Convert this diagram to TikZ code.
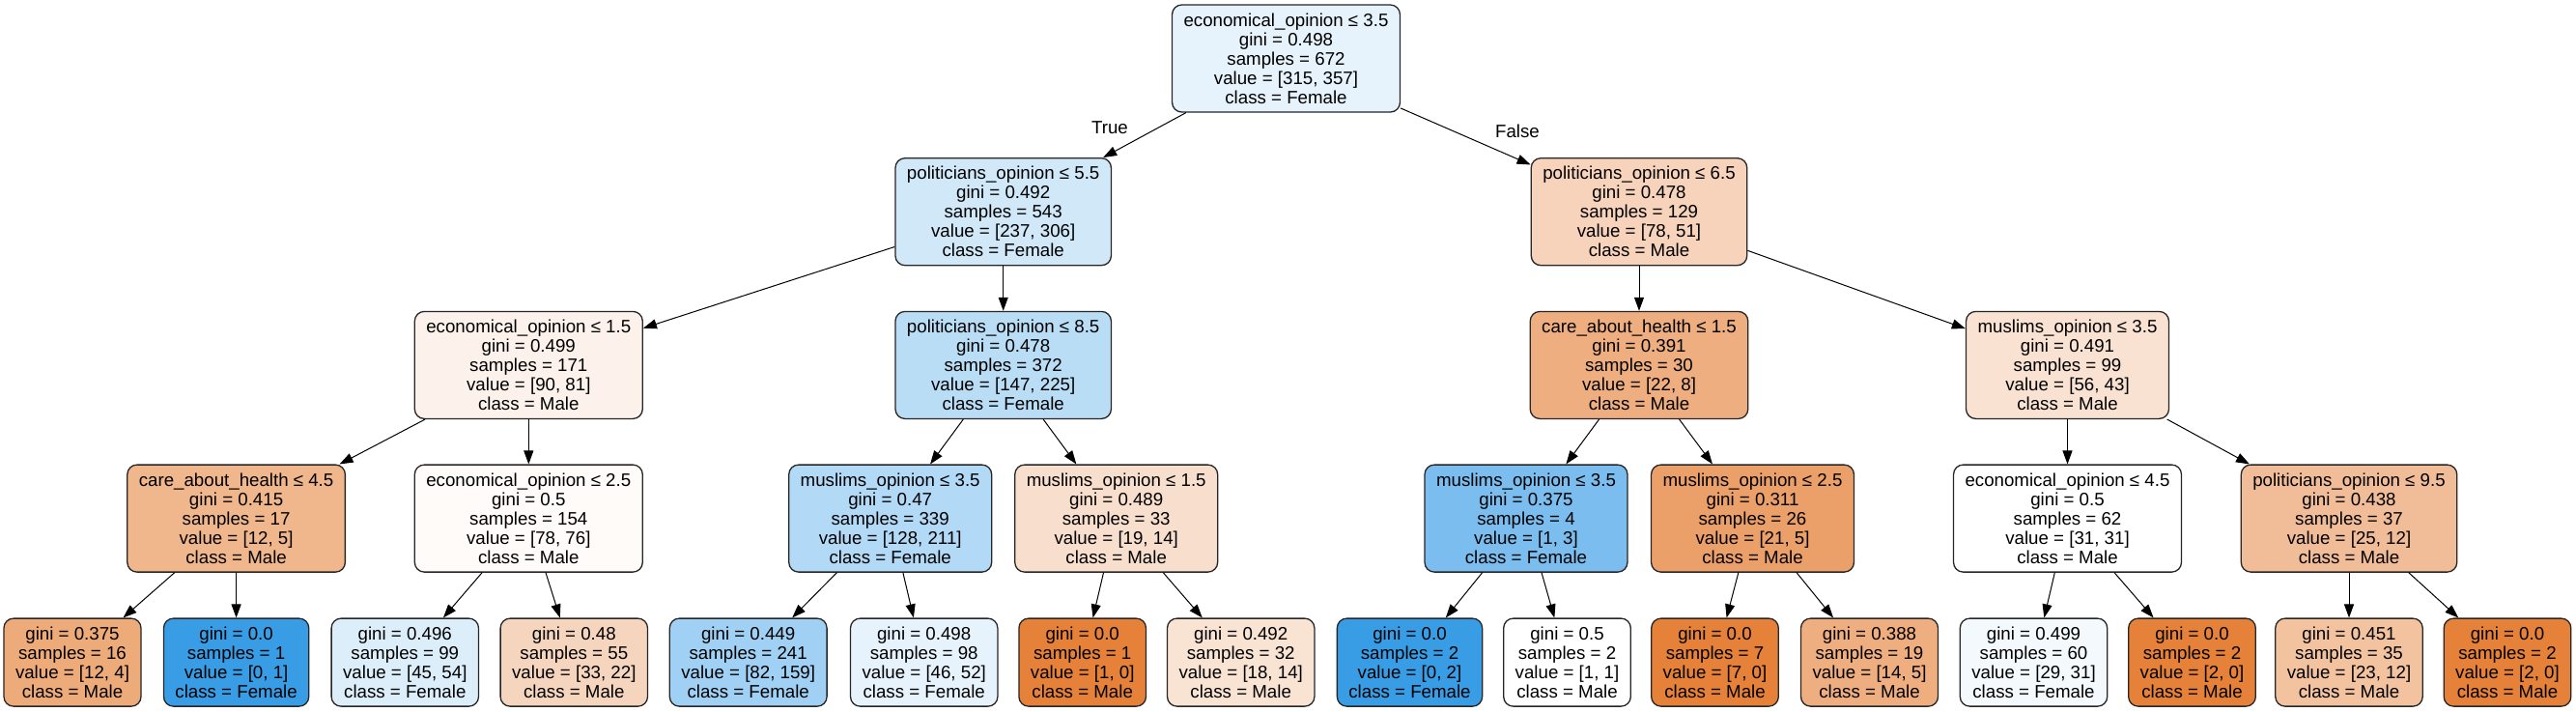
\documentclass[tikz,border=0pt]{standalone}
\usepackage{fontspec}
\setmainfont{Liberation Sans}
\usepackage{xcolor}
\usepackage{tikz}
\usetikzlibrary{arrows.meta, positioning}

\definecolor{male}{HTML}{E58139}
\definecolor{female}{HTML}{399DE5}

\begin{document}
\begin{tikzpicture}[>={Triangle[length=7pt,width=5pt]}, node distance=79.35pt, on grid,
        split/.style={draw=black!85, line width=0.65pt, rounded corners=5pt, align=center,
            font=\fontsize{9.35}{10}\selectfont, minimum height=55.5pt, inner xsep=6pt},
        leaf/.style={split, minimum height=45.5pt},
        lbl/.style={font=\fontsize{9.35}{10}\selectfont}]
        \fill[white] (0,0) rectangle (1333.5pt,-368pt);
        \useasboundingbox (0,0) rectangle (1333.5pt,-368pt);

        % root and first split
        \node[split, fill=female!12!white] (n0) at (665.75pt,-30.25pt) {economical\_opinion ≤ 3.5\\gini = 0.498\\samples = 672\\value = [315, 357]\\class = Female};
        \node[split, fill=female!23!white] (n1) [below left=79.35pt and 146.4pt of n0] {politicians\_opinion ≤ 5.5\\gini = 0.492\\samples = 543\\value = [237, 306]\\class = Female};
        \node[split, fill=male!35!white] (n16) [below right=79.35pt and 182.75pt of n0] {politicians\_opinion ≤ 6.5\\gini = 0.478\\samples = 129\\value = [78, 51]\\class = Male};
        \node[lbl] (t) [below left=35.75pt and 91.25pt of n0] {True};
        \node[lbl] (f) [below right=37.75pt and 119.75pt of n0] {False};

        % second level
        \node[split, fill=male!10!white] (n2) [below left=79.35pt and 245.7pt of n1] {economical\_opinion ≤ 1.5\\gini = 0.499\\samples = 171\\value = [90, 81]\\class = Male};
        \node[split, fill=female!35!white] (n9) [below=of n1] {politicians\_opinion ≤ 8.5\\gini = 0.478\\samples = 372\\value = [147, 225]\\class = Female};
        \node[split, fill=male!64!white] (n17) [below=of n16] {care\_about\_health ≤ 1.5\\gini = 0.391\\samples = 30\\value = [22, 8]\\class = Male};
        \node[split, fill=male!23!white] (n24) [below right=79.35pt and 221.75pt of n16] {muslims\_opinion ≤ 3.5\\gini = 0.491\\samples = 99\\value = [56, 43]\\class = Male};

        % third level
        \node[split, fill=male!58!white] (n3) [below left=79.35pt and 151.35pt of n2] {care\_about\_health ≤ 4.5\\gini = 0.415\\samples = 17\\value = [12, 5]\\class = Male};
        \node[split, fill=male!3!white] (n6) [below=of n2] {economical\_opinion ≤ 2.5\\gini = 0.5\\samples = 154\\value = [78, 76]\\class = Male};
        \node[split, fill=female!39!white] (n10) [below left=79.35pt and 58.5pt of n9] {muslims\_opinion ≤ 3.5\\gini = 0.47\\samples = 339\\value = [128, 211]\\class = Female};
        \node[split, fill=male!26!white] (n13) [below right=79.35pt and 58.5pt of n9] {muslims\_opinion ≤ 1.5\\gini = 0.489\\samples = 33\\value = [19, 14]\\class = Male};
        \node[split, fill=female!67!white] (n18) [below left=79.35pt and 58.5pt of n17] {muslims\_opinion ≤ 3.5\\gini = 0.375\\samples = 4\\value = [1, 3]\\class = Female};
        \node[split, fill=male!76!white] (n21) [below right=79.35pt and 58.75pt of n17] {muslims\_opinion ≤ 2.5\\gini = 0.311\\samples = 26\\value = [21, 5]\\class = Male};
        \node[split, fill=white] (n25) [below=of n24] {economical\_opinion ≤ 4.5\\gini = 0.5\\samples = 62\\value = [31, 31]\\class = Male};
        \node[split, fill=male!52!white] (n28) [below right=79.35pt and 145.75pt of n24] {politicians\_opinion ≤ 9.5\\gini = 0.438\\samples = 37\\value = [25, 12]\\class = Male};

        % leaves
        \node[leaf, fill=male!67!white] (n4) [below left=74.5pt and 84.8pt of n3] {gini = 0.375\\samples = 16\\value = [12, 4]\\class = Male};
        \node[leaf, fill=female] (n5) [below=74.5pt of n3] {gini = 0.0\\samples = 1\\value = [0, 1]\\class = Female};
        \node[leaf, fill=female!17!white] (n7) [below left=74.5pt and 64pt of n6] {gini = 0.496\\samples = 99\\value = [45, 54]\\class = Female};
        \node[leaf, fill=male!33!white] (n8) [below right=74.5pt and 23.5pt of n6] {gini = 0.48\\samples = 55\\value = [33, 22]\\class = Male};
        \node[leaf, fill=female!48!white] (n11) [below left=74.5pt and 73.5pt of n10] {gini = 0.449\\samples = 241\\value = [82, 159]\\class = Female};
        \node[leaf, fill=female!12!white] (n12) [below right=74.5pt and 17.5pt of n10] {gini = 0.498\\samples = 98\\value = [46, 52]\\class = Female};
        \node[leaf, fill=male] (n14) [below left=74.5pt and 17.5pt of n13] {gini = 0.0\\samples = 1\\value = [1, 0]\\class = Male};
        \node[leaf, fill=male!22!white] (n15) [below right=74.5pt and 64.5pt of n13] {gini = 0.492\\samples = 32\\value = [18, 14]\\class = Male};
        \node[leaf, fill=female] (n19) [below left=74.5pt and 60.25pt of n18] {gini = 0.0\\samples = 2\\value = [0, 2]\\class = Female};
        \node[leaf, fill=white] (n20) [below right=74.5pt and 21.25pt of n18] {gini = 0.5\\samples = 2\\value = [1, 1]\\class = Male};
        \node[leaf, fill=male] (n22) [below left=74.5pt and 19.5pt of n21] {gini = 0.0\\samples = 7\\value = [7, 0]\\class = Male};
        \node[leaf, fill=male!64!white] (n23) [below right=74.5pt and 60.5pt of n21] {gini = 0.388\\samples = 19\\value = [14, 5]\\class = Male};
        \node[leaf, fill=female!6!white] (n26) [below left=74.5pt and 17.5pt of n25] {gini = 0.499\\samples = 60\\value = [29, 31]\\class = Female};
        \node[leaf, fill=male] (n27) [below right=74.5pt and 64.5pt of n25] {gini = 0.0\\samples = 2\\value = [2, 0]\\class = Male};
        \node[leaf, fill=male!48!white] (n29) [below=74.5pt of n28] {gini = 0.451\\samples = 35\\value = [23, 12]\\class = Male};
        \node[leaf, fill=male] (n30) [below right=74.5pt and 82pt of n28] {gini = 0.0\\samples = 2\\value = [2, 0]\\class = Male};

        \path[->, line width=0.5pt]
        (n0) edge (n1)
        (n0) edge (n16)
        (n1) edge (n2)
        (n1) edge (n9)
        (n2) edge (n3)
        (n2) edge (n6)
        (n3) edge (n4)
        (n3) edge (n5)
        (n6) edge (n7)
        (n6) edge (n8)
        (n9) edge (n10)
        (n9) edge (n13)
        (n10) edge (n11)
        (n10) edge (n12)
        (n13) edge (n14)
        (n13) edge (n15)
        (n16) edge (n17)
        (n16) edge (n24)
        (n17) edge (n18)
        (n17) edge (n21)
        (n18) edge (n19)
        (n18) edge (n20)
        (n21) edge (n22)
        (n21) edge (n23)
        (n24) edge (n25)
        (n24) edge (n28)
        (n25) edge (n26)
        (n25) edge (n27)
        (n28) edge (n29)
        (n28) edge (n30);

    \end{tikzpicture}
\end{document}
